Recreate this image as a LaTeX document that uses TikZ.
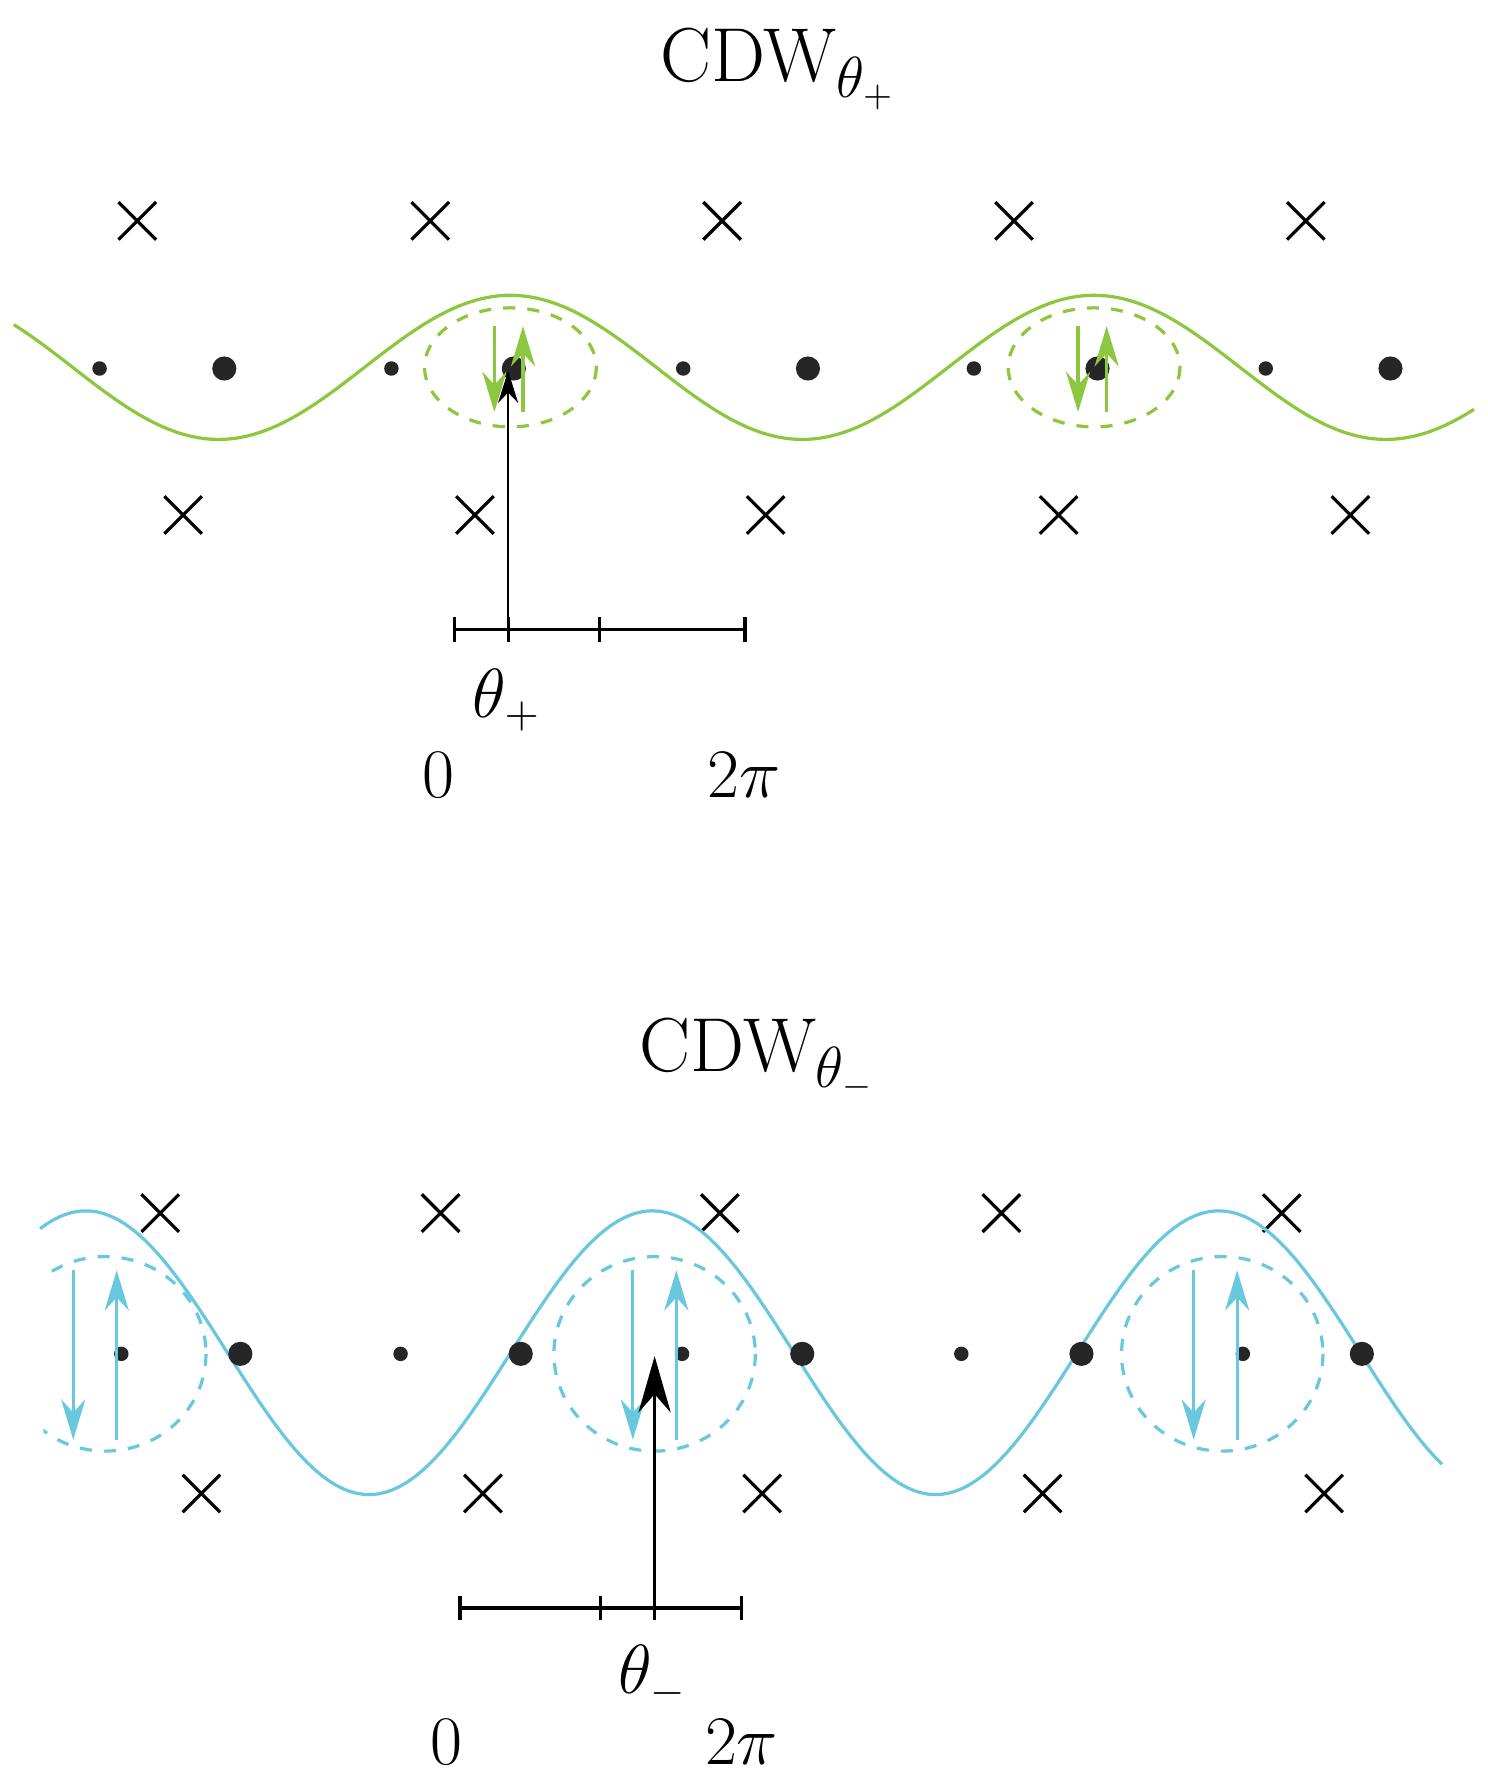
\documentclass[tikz,border=0pt]{standalone}
\usepackage{tikz}
\usetikzlibrary{arrows.meta,positioning,shapes.misc}
\definecolor{cdwgreen}{RGB}{141,198,63}
\definecolor{cdwcyan}{RGB}{106,200,222}
\tikzset{
  post/.style={->,>={Stealth[length=8pt,width=5pt]},semithick},
  spin/.style={->,>={Stealth[length=10pt,width=6pt]},thick},
}
\begin{document}
\begin{tikzpicture}[x=0.01cm,y=-0.01cm,
    ion/.style={cross out,draw=black,thick,minimum size=0.3cm,inner sep=0pt},
    small/.style={circle,fill=black!85,inner sep=0pt,minimum size=3.6pt},
    large/.style={circle,fill=black!85,inner sep=0pt,minimum size=6pt},
    lbl/.style={font=\fontsize{16}{18}\selectfont},
    ttl/.style={font=\fontsize{19}{22}\selectfont}
  ]
  \useasboundingbox (0,0) rectangle (1300,1558);

  % upper panel
  \node[ttl] (t1) at (680,60) {CDW$_{\theta_+}$};
  \foreach \x [count=\i] in {120,376,631,886,1141}
    \node[ion] (a\i) at (\x,193) {};
  \foreach \x [count=\i] in {160,415,669,925,1180}
    \node[ion] (b\i) at (\x,450) {};
  \draw[cdwgreen,thick,domain=12:1288,samples=200]
    plot (\x,{321-63*cos((\x-446)/510*360)});
  \foreach \x [count=\i] in {87,342,597,851,1106}
    \node[small] (s\i) at (\x,322) {};
  \foreach \x [count=\i] in {196,449,706,959,1215}
    \node[large] (l\i) at (\x,322) {};
  \foreach \x in {446,956} {
    \draw[cdwgreen,thick,dashed] (\x,321) ellipse (75 and 52);
    \draw[spin,cdwgreen] (\x-14,285) -- (\x-14,360);
    \draw[spin,cdwgreen] (\x+11,360) -- (\x+11,285);
  }
  \coordinate (p0) at (397,550);
  \coordinate (p1) at (444,550);
  \coordinate (p2) at (524,550);
  \coordinate (p3) at (651,550);
  \coordinate (p4) at (444,324);
  \draw[thick] (p0) -- (p3);
  \foreach \c in {p0,p1,p2,p3}
    \draw[thick] ([yshift=-3pt]\c) -- ([yshift=3pt]\c);
  \draw[post] (p1) -- (p4);
  \node[lbl] (th1) at (443,612) {$\theta_+$};
  \node[lbl] (z1) at (383,677) {$0$};
  \node[lbl] (tp1) at (650,677) {$2\pi$};

  % lower panel
  \node[ttl] (t2) at (662,925) {CDW$_{\theta_-}$};
  \foreach \x [count=\i] in {140,385,629,875,1120}
    \node[ion] (c\i) at (\x,1060) {};
  \foreach \x [count=\i] in {176,422,666,911,1157}
    \node[ion] (d\i) at (\x,1305) {};
  \draw[cdwcyan,thick,domain=35:1260,samples=200]
    plot (\x,{1182-124*cos((\x-570)/495*360)});
  \foreach \x [count=\i] in {106,350,596,840,1086}
    \node[small] (u\i) at (\x,1183) {};
  \foreach \x [count=\i] in {210,455,701,945,1190}
    \node[large] (v\i) at (\x,1183) {};
  \begin{scope}
    \clip (38,1000) rectangle (1300,1400);
    \foreach \x in {92,572,1068}
      \draw[cdwcyan,thick,dashed] (\x,1183) ellipse (88 and 85);
  \end{scope}
  \foreach \x in {83,572,1062} {
    \draw[spin,cdwcyan] (\x-19,1110) -- (\x-19,1258);
    \draw[spin,cdwcyan] (\x+19,1258) -- (\x+19,1110);
  }
  \coordinate (q0) at (402,1405);
  \coordinate (q1) at (525,1405);
  \coordinate (q2) at (572,1405);
  \coordinate (q3) at (648,1405);
  \coordinate (q4) at (572,1185);
  \draw[thick] (q0) -- (q3);
  \foreach \c in {q0,q1,q2,q3}
    \draw[thick] ([yshift=-3pt]\c) -- ([yshift=3pt]\c);
  \draw[spin,>={Stealth[length=14pt,width=8pt]}] (q2) -- (q4);
  \node[lbl] (th2) at (570,1465) {$\theta_-$};
  \node[lbl] (z2) at (390,1522) {$0$};
  \node[lbl] (tp2) at (648,1522) {$2\pi$};
\end{tikzpicture}
\end{document}
